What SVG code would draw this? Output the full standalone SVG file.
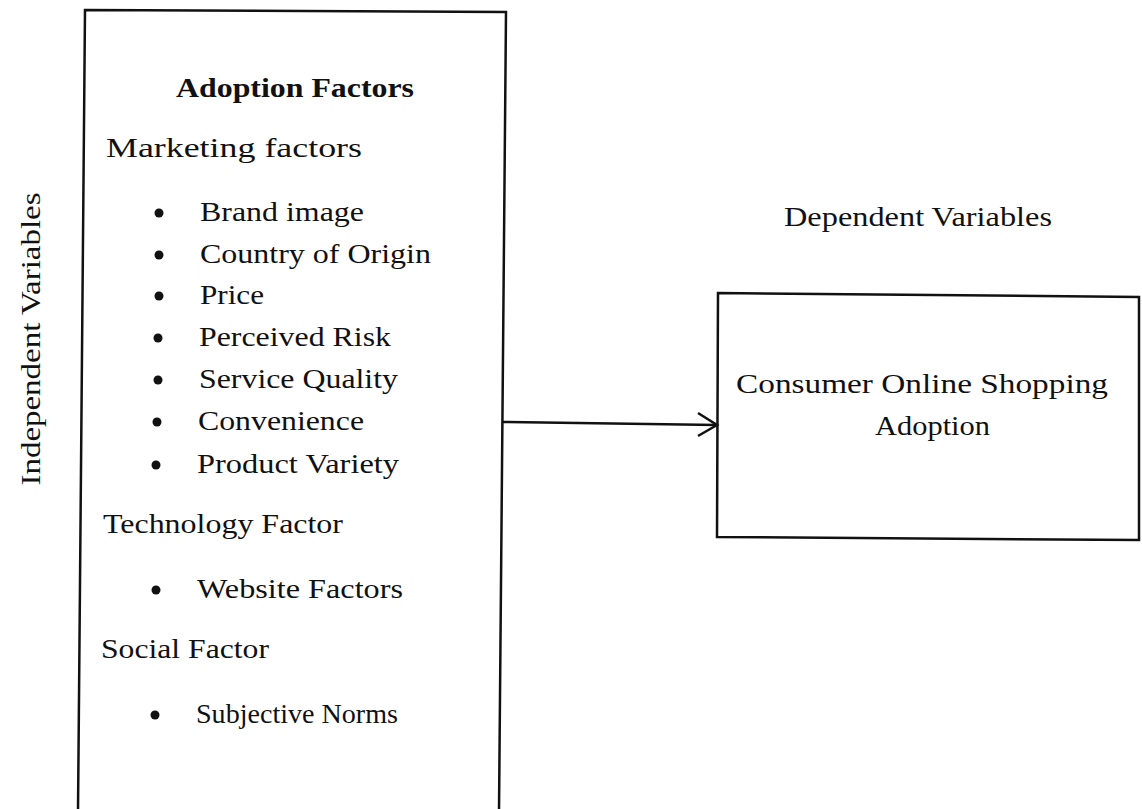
<svg xmlns="http://www.w3.org/2000/svg" width="1142" height="809" viewBox="0 0 1142 809">
<style>
.box{fill:none;stroke:#111;stroke-width:2.5;stroke-linejoin:miter}
.t{font-family:"Liberation Serif","Times New Roman",serif;font-size:28px;fill:#111}
.b{font-weight:bold}
.bul{fill:#111}
.conn{fill:none;stroke:#111;stroke-width:2.5}
</style>
<rect width="1142" height="809" fill="#fff"/>
<g id="independent-label">
<text class="t" transform="translate(40,339) rotate(-90)" text-anchor="middle" textLength="293" lengthAdjust="spacingAndGlyphs">Independent Variables</text>
</g>
<g id="adoption-factors">
<polygon class="box" points="85,10 506,12 499,812 78,812"/>
<text class="t b" x="176" y="97" textLength="238" lengthAdjust="spacingAndGlyphs">Adoption Factors</text>
<text class="t" x="106" y="157" textLength="256" lengthAdjust="spacingAndGlyphs">Marketing factors</text>
<circle class="bul" cx="159" cy="213" r="4.5"/>
<text class="t" x="200" y="221" textLength="164" lengthAdjust="spacingAndGlyphs">Brand image</text>
<circle class="bul" cx="159" cy="255" r="4.5"/>
<text class="t" x="200" y="263" textLength="231" lengthAdjust="spacingAndGlyphs">Country of Origin</text>
<circle class="bul" cx="159" cy="296" r="4.5"/>
<text class="t" x="200" y="304" textLength="64" lengthAdjust="spacingAndGlyphs">Price</text>
<circle class="bul" cx="158" cy="338" r="4.5"/>
<text class="t" x="199" y="346" textLength="192" lengthAdjust="spacingAndGlyphs">Perceived Risk</text>
<circle class="bul" cx="158" cy="380" r="4.5"/>
<text class="t" x="199" y="388" textLength="199" lengthAdjust="spacingAndGlyphs">Service Quality</text>
<circle class="bul" cx="157" cy="422" r="4.5"/>
<text class="t" x="198" y="430" textLength="166" lengthAdjust="spacingAndGlyphs">Convenience</text>
<circle class="bul" cx="156" cy="465" r="4.5"/>
<text class="t" x="197" y="473" textLength="202" lengthAdjust="spacingAndGlyphs">Product Variety</text>
<text class="t" x="103" y="533" textLength="240" lengthAdjust="spacingAndGlyphs">Technology Factor</text>
<circle class="bul" cx="156" cy="590" r="4.5"/>
<text class="t" x="197" y="598" textLength="206" lengthAdjust="spacingAndGlyphs">Website Factors</text>
<text class="t" x="101" y="658" textLength="168" lengthAdjust="spacingAndGlyphs">Social Factor</text>
<circle class="bul" cx="155" cy="715" r="4.5"/>
<text class="t" x="196" y="723" textLength="202" lengthAdjust="spacingAndGlyphs">Subjective Norms</text>
</g>
<g id="dependent-label">
<text class="t" x="784" y="226" textLength="268" lengthAdjust="spacingAndGlyphs">Dependent Variables</text>
</g>
<g id="consumer-adoption">
<polygon class="box" points="718,293 1139,297 1139,540 717,537"/>
<text class="t" x="736" y="393" textLength="372" lengthAdjust="spacingAndGlyphs">Consumer Online Shopping</text>
<text class="t" x="875" y="435" textLength="115" lengthAdjust="spacingAndGlyphs">Adoption</text>
</g>
<g id="connectors">
<line class="conn" x1="502" y1="422" x2="717" y2="425"/>
<polyline class="conn" points="698,413 717,425 698,436"/>
</g>
</svg>
